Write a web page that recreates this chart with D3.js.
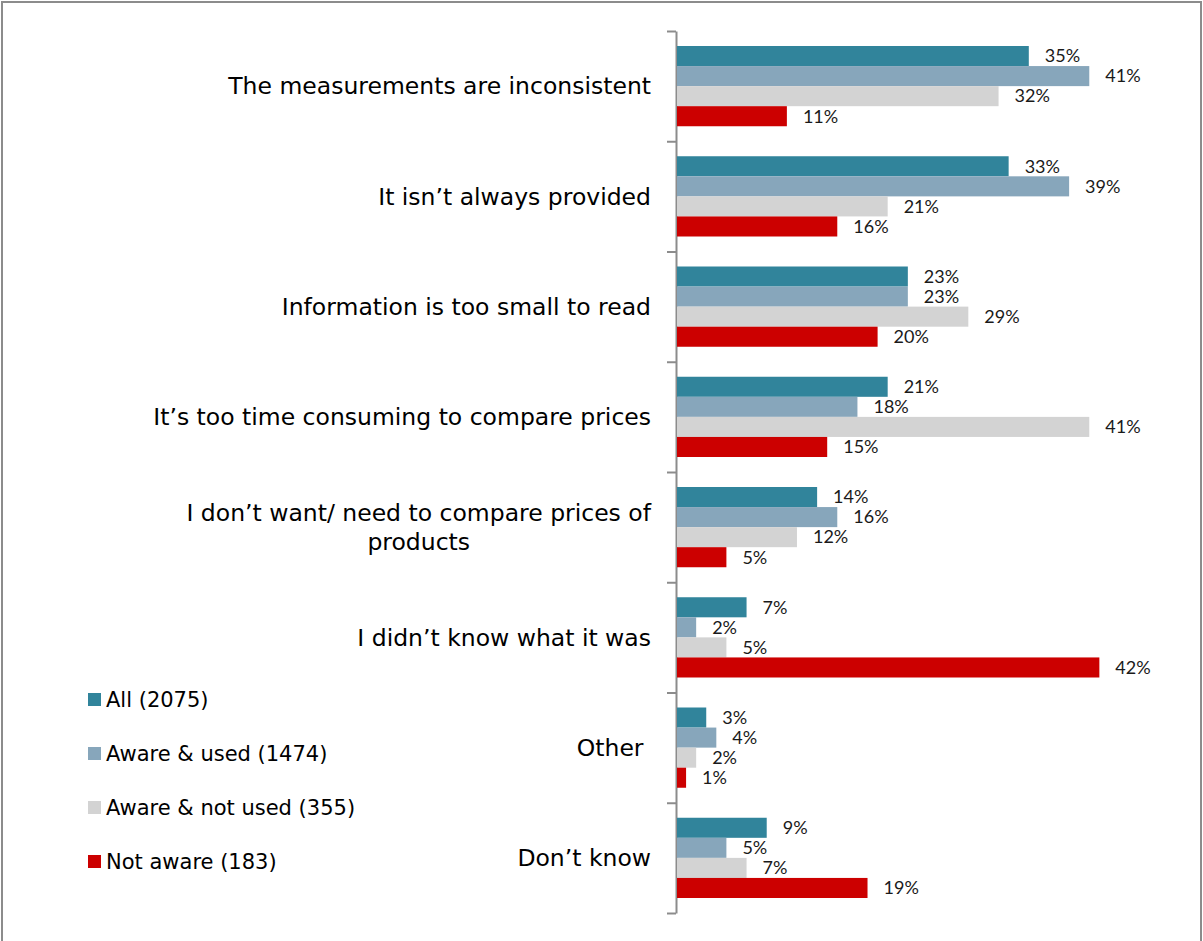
<!DOCTYPE html>
<html>
<head>
<meta charset="utf-8">
<script src="https://cdn.jsdelivr.net/npm/d3@7"></script>
<style>
  html, body { margin: 0; padding: 0; background: #fff; }
  svg { display: block; }
</style>
</head>
<body>
<svg id="chart" width="1203" height="941"></svg>
<script>
// categories, top to bottom (lines split where the label wraps)
var categories = [
    ["The measurements are inconsistent"],
    ["It isn\u2019t always provided"],
    ["Information is too small to read"],
    ["It\u2019s too time consuming to compare prices"],
    ["I don\u2019t want/ need to compare prices of", "products"],
    ["I didn\u2019t know what it was"],
    ["Other\u00a0"],
    ["Don\u2019t know"]
];

var seriesNames = ["All (2075)", "Aware & used (1474)", "Aware & not used (355)", "Not aware (183)"];
var seriesColors = ["#31849b", "#87a6bb", "#d3d3d3", "#cc0000"];

var allValues        = [35, 33, 23, 21, 14, 7, 3, 9];
var awareUsedValues  = [41, 39, 23, 18, 16, 2, 4, 5];
var awareNotUsed     = [32, 21, 29, 41, 12, 5, 2, 7];
var notAwareValues   = [11, 16, 20, 15, 5, 42, 1, 19];

var seriesValues = [allValues, awareUsedValues, awareNotUsed, notAwareValues];

var svg = d3.select("#chart");

// outer frame
svg.append("rect")
    .attr("x", 2).attr("y", 2)
    .attr("width", 1199).attr("height", 960)
    .attr("fill", "none")
    .attr("stroke", "#8c8c8c")
    .attr("stroke-width", 2);

var x0 = 676;
var plotTop = 31, plotBottom = 913;

var x = d3.scaleLinear().domain([0, 50]).range([x0, x0 + 504]);
var y = d3.scaleBand().domain(d3.range(categories.length)).range([plotTop, plotBottom]);
var ySub = d3.scaleBand().domain(d3.range(seriesNames.length))
    .range([15, y.bandwidth() - 15]);

// category boundaries axis
var yEdges = d3.scaleLinear().domain([0, categories.length]).range([plotTop, plotBottom]);
svg.append("g")
    .attr("class", "axis")
    .attr("transform", "translate(" + x0 + ",0)")
    .call(d3.axisLeft(yEdges).ticks(categories.length).tickSize(9).tickSizeOuter(0).tickFormat(""))
    .call(function (g) {
        g.selectAll("line").attr("stroke", "#8c8c8c").attr("stroke-width", 2);
        g.select(".domain").attr("stroke", "#8c8c8c").attr("stroke-width", 2);
    });

// bars
var rows = [];
categories.forEach(function (c, i) {
    seriesValues.forEach(function (vals, s) {
        rows.push({cat: i, s: s, value: vals[i]});
    });
});

var g = svg.append("g");

g.selectAll(".bar")
    .data(rows)
    .enter().append("rect")
    .attr("class", "bar")
    .attr("x", x0 + 1)
    .attr("y", function (d) { return y(d.cat) + ySub(d.s); })
    .attr("width", function (d) { return x(d.value) - x0 - 1; })
    .attr("height", ySub.bandwidth())
    .attr("fill", function (d) { return seriesColors[d.s]; });

g.selectAll(".value")
    .data(rows)
    .enter().append("text")
    .attr("class", "value")
    .attr("x", function (d) { return x(d.value) + 16; })
    .attr("y", function (d) { return y(d.cat) + ySub(d.s) + ySub.bandwidth() / 2; })
    .attr("dy", "0.35em")
    .attr("font-family", "Lato, 'Open Sans', sans-serif")
    .attr("font-size", "18px")
    .attr("fill", "#1a1a1a")
    .text(function (d) { return d.value + "%"; });

// category labels
var labels = svg.append("g")
    .attr("font-family", "'DejaVu Sans', Verdana, sans-serif")
    .attr("font-size", "23.5px")
    .attr("fill", "#000");

categories.forEach(function (lines, i) {
    var cy = y(i) + y.bandwidth() / 2;
    var lh = 29;
    var t = labels.append("text")
        .attr("text-anchor", "end")
        .attr("x", 651)
        .attr("y", cy - (lines.length - 1) * lh / 2)
        .attr("dy", "0.35em")
        .text(lines[0]);
    if (lines.length > 1) {
        var w = t.node().getComputedTextLength();
        labels.append("text")
            .attr("text-anchor", "middle")
            .attr("x", 651 - w / 2)
            .attr("y", cy + lh / 2)
            .attr("dy", "0.35em")
            .text(lines[1]);
    }
});

// legend
var legend = svg.append("g")
    .attr("font-family", "'DejaVu Sans', Verdana, sans-serif")
    .attr("font-size", "21px");

var item = legend.selectAll(".item")
    .data(seriesNames)
    .enter().append("g")
    .attr("class", "item")
    .attr("transform", function (d, i) { return "translate(88," + (700 + i * 54) + ")"; });

item.append("rect")
    .attr("x", 0).attr("y", -7)
    .attr("width", 13).attr("height", 13)
    .attr("fill", function (d, i) { return seriesColors[i]; });

item.append("text")
    .attr("x", 18)
    .attr("dy", "0.35em")
    .attr("fill", "#000")
    .text(function (d) { return d; });
</script>
</body>
</html>
